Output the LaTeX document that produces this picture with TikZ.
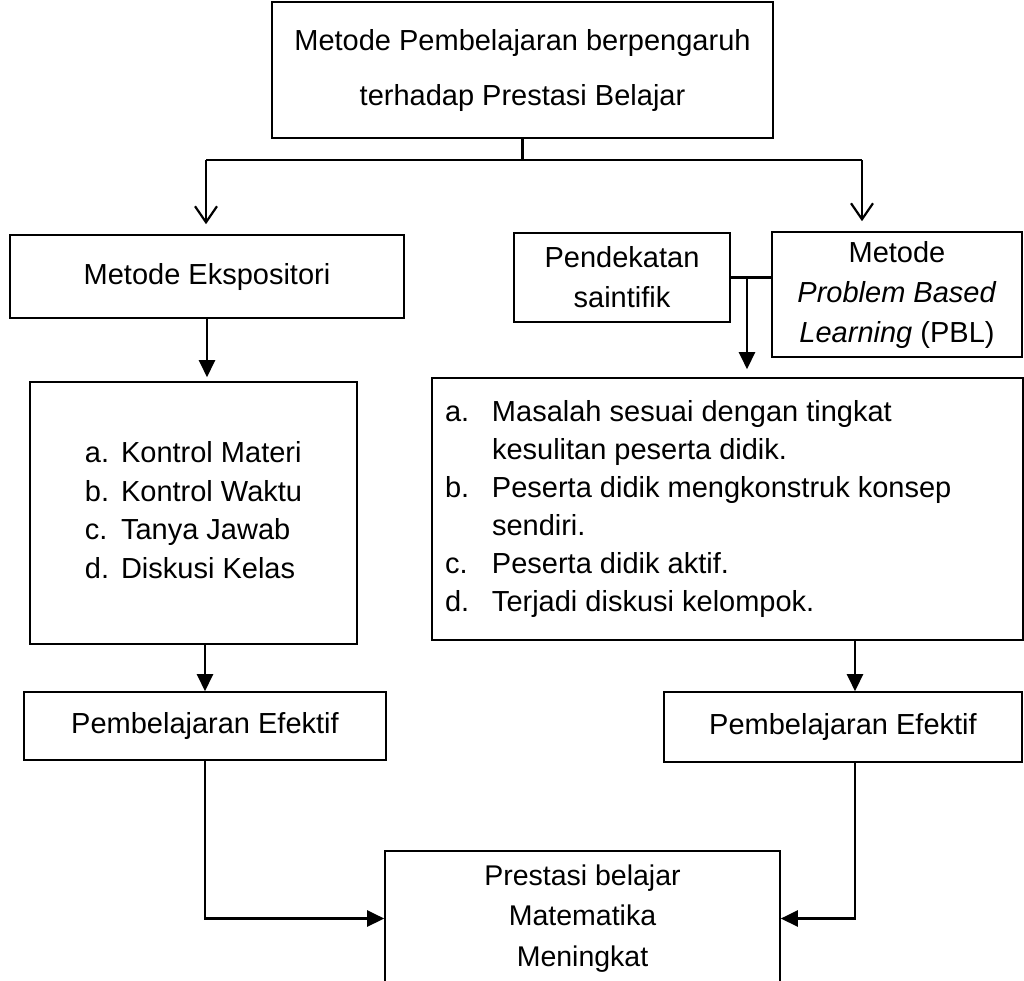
\documentclass[tikz,border=0pt]{standalone}
\usepackage{fontspec}
\setmainfont{Liberation Sans}
\usetikzlibrary{arrows.meta}
\begin{document}
\begin{tikzpicture}[x=1pt,y=-1pt,
  box/.style={draw, line width=1.6pt, inner sep=0pt, align=center, font=\fontsize{29}{40}\selectfont},
  conn/.style={line width=2.4pt},
  farrow/.style={conn, -{Triangle[length=17pt,width=16pt]}},
  varrow/.style={conn, -{Straight Barb[length=16pt,width=22pt,line width=2.2pt]}}]
\useasboundingbox (0,0) rectangle (1024,980);
% nodes
\node[box, minimum width=501pt, minimum height=136pt, font=\fontsize{29}{55}\selectfont] (top) at (522.5,70) {Metode Pembelajaran berpengaruh\\terhadap Prestasi Belajar};
\node[box, minimum width=394pt, minimum height=83pt] (eks) at (207,276.5) {Metode Ekspositori};
\node[box, minimum width=327pt, minimum height=262pt, font=\fontsize{29}{38.5}\selectfont] (listL) at (193.5,513)
  {\begin{tabular}{@{}l@{\hspace{12pt}}l@{}}a.&Kontrol Materi\\ b.&Kontrol Waktu\\ c.&Tanya Jawab\\ d.&Diskusi Kelas\end{tabular}};
\node[box, minimum width=362pt, minimum height=68pt] (efL) at (205,726) {Pembelajaran Efektif};
\node[box, minimum width=216pt, minimum height=89pt] (pend) at (622,277.5) {Pendekatan\\saintifik};
\node[box, minimum width=250pt, minimum height=125pt] (pbl) at (897,294.5) {Metode\\\textit{Problem Based}\\\textit{Learning} (PBL)};
\node[box, minimum width=591pt, minimum height=262pt, font=\fontsize{29}{38}\selectfont] (listR) at (727.5,509)
  {\begin{tabular}{@{}p{47pt}@{}p{518pt}@{}}a.&Masalah sesuai dengan tingkat\\ &kesulitan peserta didik.\\ b.&Peserta didik mengkonstruk konsep\\ &sendiri.\\ c.&Peserta didik aktif.\\ d.&Terjadi diskusi kelompok.\end{tabular}};
\node[box, minimum width=358pt, minimum height=70pt] (efR) at (843,727) {Pembelajaran Efektif};
\node[box, minimum width=395pt, minimum height=135pt, font=\fontsize{28.5}{40.5}\selectfont] (bot) at (582.5,918.5) {Prestasi belajar\\Matematika\\Meningkat};
% connectors
\coordinate (jL) at (206,160);
\coordinate (jR) at (862,160);
\coordinate (rx) at (855,0);
\coordinate (m) at (747,277.5);
\draw[conn] (top.south) -- (top.south |- jL);
\draw[conn] (jL) -- (jR);
\draw[varrow, shorten >=10pt] (jL) -- (jL |- eks.north);
\draw[varrow, shorten >=10pt] (jR) -- (jR |- pbl.north);
\draw[farrow, shorten >=4pt] (eks.south) -- (eks.south |- listL.north);
\draw[farrow] (listL.south -| efL.north) -- (efL.north);
\draw[farrow] (efL.south) |- (bot.west);
\draw[conn] (pend.east) -- (pend.east -| pbl.west);
\draw[farrow, shorten >=8pt] (m) -- (m |- listR.north);
\draw[farrow] (listR.south -| rx) -- (efR.north -| rx);
\draw[farrow] (efR.south -| rx) |- (bot.east);
\end{tikzpicture}
\end{document}
